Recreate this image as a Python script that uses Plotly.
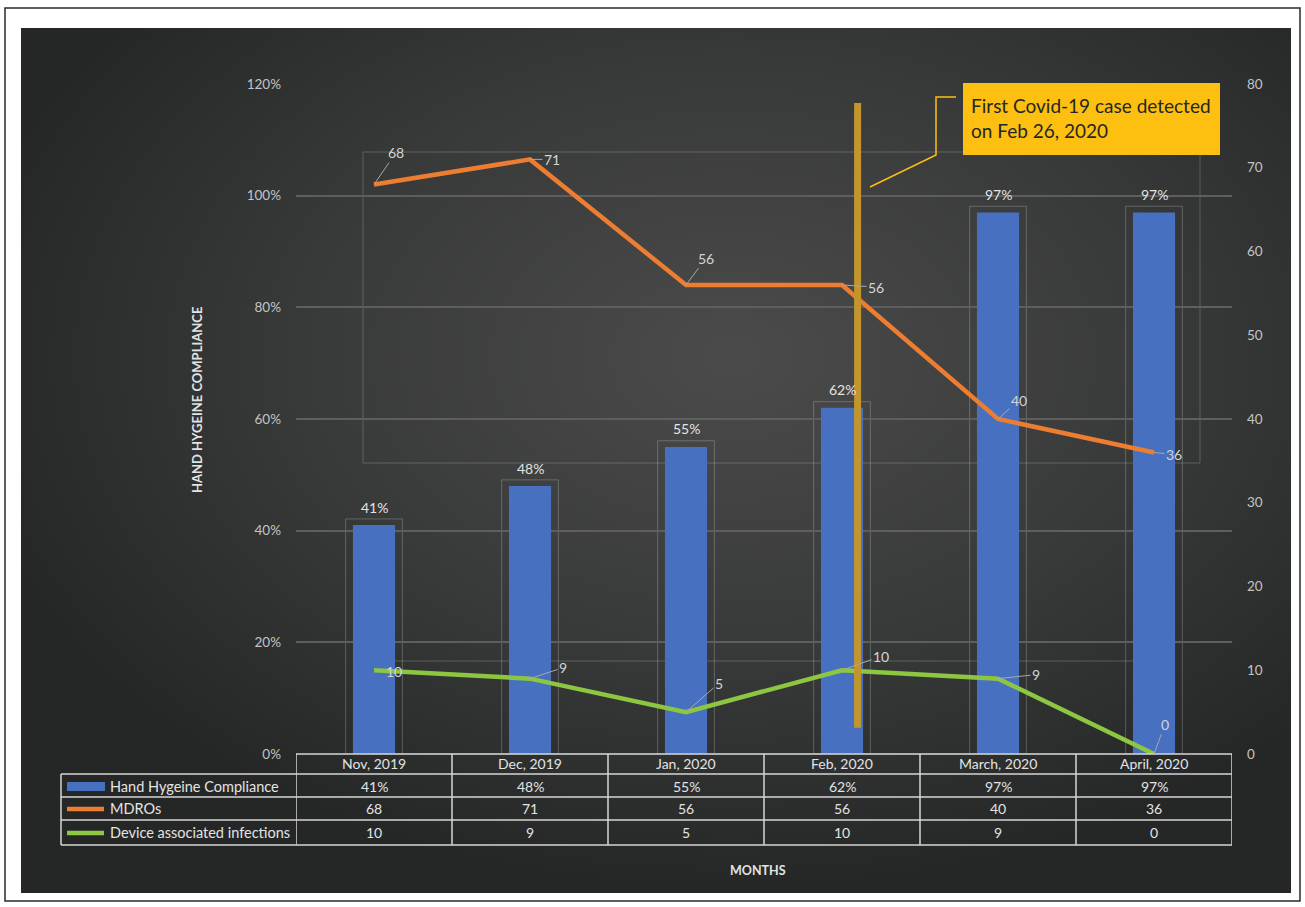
import base64
import plotly.graph_objects as go

# ---------------- data ----------------
months = ["Nov, 2019", "Dec, 2019", "Jan, 2020", "Feb, 2020", "March, 2020", "April, 2020"]
hand_hygiene = [41, 48, 55, 62, 97, 97]          # %
mdros = [68, 71, 56, 56, 40, 36]
device_inf = [10, 9, 5, 10, 9, 0]
series_names = ["Hand Hygeine Compliance", "MDROs", "Device associated infections"]
covid_text = "First Covid-19 case detected<br>on Feb 26, 2020"

# ---------------- layout helpers (pixel -> paper) ----------------
W, H = 1305, 907
L, R, T, B = 296, 1232, 84, 754
def px(xp):
    return (xp - L) / (R - L)
def py(yp):
    return (B - yp) / (B - T)

FONT = "Lato, 'Open Sans', sans-serif"
TXT = "#e3e3e3"
TICK = "#c4c4c4"
BLUE = "#4770c0"
ORANGE = "#ed7d31"
GREEN = "#8dc641"

fig = go.Figure()

fig.add_trace(go.Bar(
    x=months, y=hand_hygiene, name=series_names[0],
    marker=dict(color=BLUE, line=dict(width=0)), width=0.27,
    hoverinfo="skip", yaxis="y"))
fig.add_trace(go.Scatter(
    x=months, y=mdros, name=series_names[1], mode="lines",
    line=dict(color=ORANGE, width=4.5), yaxis="y2"))
fig.add_trace(go.Scatter(
    x=months, y=device_inf, name=series_names[2], mode="lines",
    line=dict(color=GREEN, width=4.5), yaxis="y2"))

shapes = []
annotations = []

def ann(**kw):
    kw.setdefault("xanchor", "center")
    kw.setdefault("yanchor", "middle")
    annotations.append(kw)

# background gradient panel
svg = ("<svg xmlns='http://www.w3.org/2000/svg' width='1270' height='865' preserveAspectRatio='none'>"
       "<defs><radialGradient id='g' cx='0.56' cy='0.38' r='0.62'>"
       "<stop offset='0' stop-color='#4b4b4b'/><stop offset='0.55' stop-color='#383939'/>"
       "<stop offset='1' stop-color='#252727'/></radialGradient></defs>"
       "<rect width='1270' height='865' fill='url(#g)'/></svg>")
src = "data:image/svg+xml;base64," + base64.b64encode(svg.encode()).decode()
images = [dict(source=src, xref="paper", yref="paper", x=px(21), y=py(28),
               sizex=px(1291) - px(21), sizey=py(28) - py(893),
               sizing="stretch", layer="below", xanchor="left", yanchor="top")]

# outer frame
shapes.append(dict(type="rect", xref="paper", yref="paper", x0=px(5), x1=px(1300),
                   y0=py(8), y1=py(901), line=dict(color="#2a2a2a", width=1.5), layer="below"))

# faint label-selection boxes
for (x0, y0, x1, y1) in [(363, 152, 1200, 463), (363, 661, 1163, 754)]:
    shapes.append(dict(type="rect", xref="paper", yref="paper", x0=px(x0), x1=px(x1),
                       y0=py(y0), y1=py(y1), line=dict(color="rgba(255,255,255,0.2)", width=1),
                       layer="below"))
for i, v in enumerate(hand_hygiene):
    shapes.append(dict(type="rect", xref="x", yref="y", x0=i - 0.182, x1=i + 0.182,
                       y0=0, y1=v + 1.1, line=dict(color="rgba(255,255,255,0.22)", width=1),
                       layer="below"))

# bar value labels
for m, v in zip(months, hand_hygiene):
    ann(x=m, y=v, xref="x", yref="y", text=f"{v}%", showarrow=False,
        yshift=18, font=dict(family=FONT, size=14, color=TXT))

# line data labels with leader lines (pixel offsets)
mdro_off = [(22, -32), (22, 0), (20, -27), (34, 2), (21, -19), (20, 2)]
dev_off = [(20, 1), (33, -11), (33, -29), (39, -14), (38, -4), (11, -30)]
for m, v, (ax, ay) in zip(months, mdros, mdro_off):
    ann(x=m, y=v, xref="x", yref="y2", text=str(v), showarrow=True,
        arrowhead=0, arrowwidth=1, arrowcolor="#a8a8a8", ax=ax, ay=ay,
        standoff=0, font=dict(family=FONT, size=14, color="#d4d4d4"))
for j, (m, v, (ax, ay)) in enumerate(zip(months, device_inf, dev_off)):
    ann(x=m, y=v, xref="x", yref="y2", text=str(v),
        showarrow=(j != 0), arrowhead=0, arrowwidth=1,
        arrowcolor="#a8a8a8", ax=ax, ay=ay, standoff=0,
        xshift=(ax if j == 0 else 0), yshift=(-ay if j == 0 else 0),
        font=dict(family=FONT, size=14, color="#d4d4d4"))

# covid vertical marker
shapes.append(dict(type="line", xref="x", yref="y", x0=3.1, x1=3.1, y0=4.7, y1=116.6,
                   line=dict(color="#c2962c", width=7), layer="above"))
# callout box + leader
shapes.append(dict(type="rect", xref="paper", yref="paper", x0=px(963), x1=px(1220),
                   y0=py(83), y1=py(155), fillcolor="#fdc010", line=dict(width=0), layer="above"))
path = f"M {px(956)},{py(97)} L {px(936)},{py(97)} L {px(936)},{py(155)} L {px(870)},{py(187)}"
shapes.append(dict(type="path", xref="paper", yref="paper", path=path,
                   line=dict(color="#fdc010", width=1.5), layer="above"))
ann(xref="paper", yref="paper", x=px(969), y=py(118), text=covid_text,
    showarrow=False, xanchor="left", align="left",
    font=dict(family=FONT, size=19, color="#262626"))

# ---------------- data table ----------------
LINE = dict(color="#d6d6d6", width=1.5)
row_y = [754, 774, 797, 820, 845]
shapes.append(dict(type="line", xref="x", yref="paper", x0=-0.5, x1=len(months) - 0.5,
                   y0=py(754), y1=py(754), line=LINE, layer="above"))
for yy in row_y[1:]:
    shapes.append(dict(type="line", xref="paper", yref="paper", x0=px(61), x1=1,
                       y0=py(yy), y1=py(yy), line=LINE, layer="above"))
shapes.append(dict(type="line", xref="paper", yref="paper", x0=px(61), x1=px(61),
                   y0=py(774), y1=py(845), line=LINE, layer="above"))
for i in range(len(months) + 1):
    shapes.append(dict(type="line", xref="x", yref="paper", x0=i - 0.5, x1=i - 0.5,
                       y0=py(754), y1=py(845), line=LINE, layer="above"))

row_vals = [[f"{v}%" for v in hand_hygiene], [str(v) for v in mdros], [str(v) for v in device_inf]]
cell_y = [763, 786, 809, 832]
for m in months:
    ann(x=m, xref="x", yref="paper", y=py(cell_y[0]), text=m,
        showarrow=False, font=dict(family=FONT, size=14, color=TXT))
for r, vals in enumerate(row_vals):
    for m, t in zip(months, vals):
        ann(x=m, xref="x", yref="paper", y=py(cell_y[r + 1]), text=t,
            showarrow=False, font=dict(family=FONT, size=14, color=TXT))
    ann(xref="paper", yref="paper", x=px(108), y=py(cell_y[r + 1]),
        text=series_names[r], showarrow=False, xanchor="left",
        font=dict(family=FONT, size=14.5, color=TXT))
# legend keys
shapes.append(dict(type="rect", xref="paper", yref="paper", x0=px(67), x1=px(105),
                   y0=py(782), y1=py(791), fillcolor=BLUE, line=dict(width=0), layer="above"))
shapes.append(dict(type="line", xref="paper", yref="paper", x0=px(67), x1=px(104),
                   y0=py(809), y1=py(809), line=dict(color=ORANGE, width=4.5), layer="above"))
shapes.append(dict(type="line", xref="paper", yref="paper", x0=px(67), x1=px(104),
                   y0=py(833), y1=py(833), line=dict(color=GREEN, width=4.5), layer="above"))

# axis titles
ann(xref="paper", yref="paper", x=px(197), y=py(400),
    text="<b>HAND HYGEINE COMPLIANCE</b>", textangle=-90, showarrow=False,
    font=dict(family=FONT, size=13, color=TXT))
ann(xref="paper", yref="paper", x=px(758), y=py(870), text="<b>MONTHS</b>",
    showarrow=False, font=dict(family=FONT, size=12.5, color=TXT))

fig.update_layout(
    width=W, height=H, autosize=False,
    margin=dict(l=L, r=W - R, t=T, b=H - B, pad=0),
    paper_bgcolor="white", plot_bgcolor="rgba(0,0,0,0)",
    showlegend=False, barmode="overlay",
    font=dict(family=FONT, color=TICK),
    xaxis=dict(type="category", range=[-0.5, len(months) - 0.5], showticklabels=False,
               showgrid=False, zeroline=False, showline=False, ticks=""),
    yaxis=dict(range=[0, 120], dtick=20, ticksuffix="%", showgrid=True,
               gridcolor="#5e5e5e", gridwidth=1.5, zeroline=False, showline=False,
               ticks="", ticklabelstandoff=14, tickfont=dict(family=FONT, size=13.5, color=TICK)),
    yaxis2=dict(range=[0, 80], dtick=10, overlaying="y", side="right", showgrid=False,
                zeroline=False, showline=False, ticks="", ticklabelstandoff=14,
                tickfont=dict(family=FONT, size=13.5, color=TICK)),
    shapes=shapes, annotations=annotations, images=images,
)

fig.write_html("out.html", config={"displayModeBar": False},
               post_script="document.body.style.margin='0px';document.body.style.overflow='hidden';")
